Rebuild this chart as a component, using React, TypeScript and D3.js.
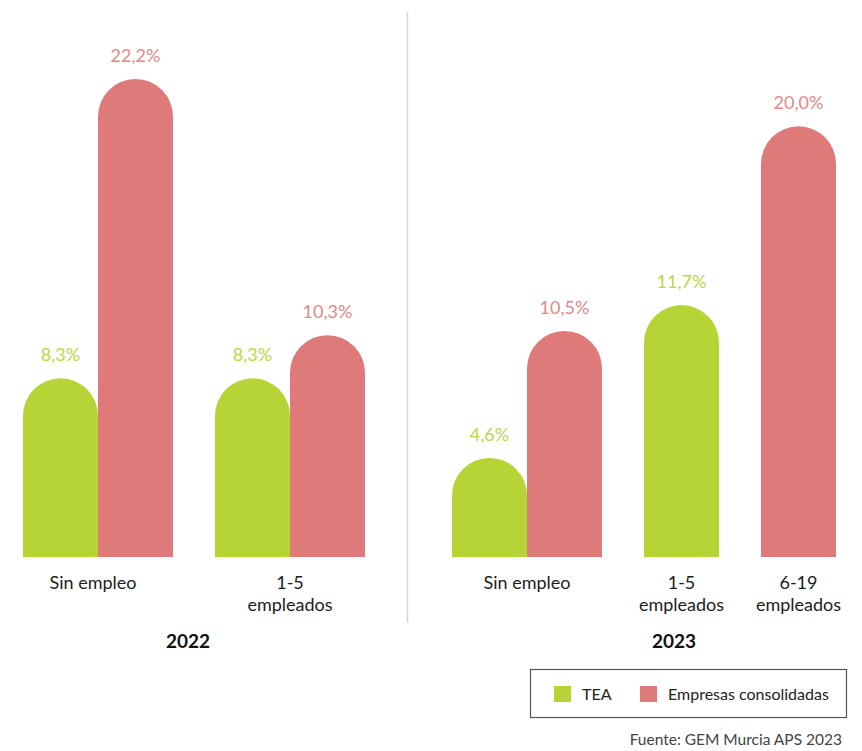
import React, { useRef, useEffect } from 'react';
import * as d3 from 'd3';

// categories per panel
const years = ['2022', '2023'];
const categories2022 = ['Sin empleo', '1-5 empleados'];
const categories2023 = ['Sin empleo', '1-5 empleados', '6-19 empleados'];

// series values (null = no bar)
const tea2022 = [8.3, 8.3];
const empresas2022 = [22.2, 10.3];
const tea2023 = [4.6, 11.7, null];
const empresas2023 = [10.5, null, 20.0];

const seriesNames = ['TEA', 'Empresas consolidadas'];
const seriesColors = ['#b6d436', '#de7a79'];
const labelColors = ['#bad745', '#e48886'];

const W = 862;
const H = 751;

const fmt = (v: number) => d3.format('.1f')(v).replace('.', ',') + '%';

export default function App() {
  const ref = useRef<SVGSVGElement>(null);

  useEffect(() => {
    if (!ref.current) return;
    const svg = d3.select(ref.current);
    svg.selectAll('*').remove();

    const font = 'Lato, "Open Sans", sans-serif';
    const baseline = 557;
    const barW = 75;
    const gap = 42;

    const y = d3.scaleLinear().domain([0, 22.2]).range([baseline, 79]);

    // bar with a semicircular top
    const roundTop = (x0: number, top: number, w: number) => {
      const r = w / 2;
      const p = d3.path();
      p.moveTo(x0, baseline);
      p.lineTo(x0, top + r);
      p.arc(x0 + r, top + r, r, Math.PI, 0);
      p.lineTo(x0 + w, baseline);
      p.closePath();
      return p.toString();
    };

    const panels = [
      { year: years[0], cats: categories2022, series: [tea2022, empresas2022], x0: 23, yearX: 188 },
      { year: years[1], cats: categories2023, series: [tea2023, empresas2023], x0: 452, yearX: 674 },
    ];

    panels.forEach((panel) => {
      const g = svg.append('g');
      let cursor = panel.x0;
      panel.cats.forEach((cat, ci) => {
        const present = panel.series
          .map((s, si) => ({ v: s[ci], si }))
          .filter((d) => d.v !== null && d.v !== undefined) as { v: number; si: number }[];
        const groupW = present.length * barW;
        present.forEach((d, k) => {
          const bx = cursor + k * barW;
          g.append('path')
            .attr('d', roundTop(bx, y(d.v), barW))
            .attr('fill', seriesColors[d.si]);
          g.append('text')
            .attr('x', bx + barW / 2)
            .attr('y', y(d.v) - 17)
            .attr('text-anchor', 'middle')
            .attr('font-family', font)
            .attr('font-size', 18)
            .attr('fill', labelColors[d.si])
            .text(fmt(d.v));
        });
        const cx = cursor + groupW / 2 - (present.length === 2 && panel.x0 < 100 && ci === 0 ? 5 : 0);
        const lines = cat === 'Sin empleo' ? [cat] : cat.split(' ');
        lines.forEach((ln, li) => {
          g.append('text')
            .attr('x', cx)
            .attr('y', 589 + li * 22)
            .attr('text-anchor', 'middle')
            .attr('font-family', font)
            .attr('font-size', 18)
            .attr('fill', '#1c1c1c')
            .text(ln);
        });
        cursor += groupW + gap;
      });
      g.append('text')
        .attr('x', panel.yearX)
        .attr('y', 648)
        .attr('text-anchor', 'middle')
        .attr('font-family', font)
        .attr('font-weight', 'bold')
        .attr('font-size', 19)
        .attr('fill', '#111')
        .text(panel.year);
    });

    // divider
    svg.append('line')
      .attr('x1', 407.5).attr('x2', 407.5)
      .attr('y1', 12).attr('y2', 623)
      .attr('stroke', '#d6d6d6')
      .attr('stroke-width', 1.5);

    // legend
    const lg = svg.append('g');
    lg.append('rect')
      .attr('x', 530.5).attr('y', 669.5)
      .attr('width', 316).attr('height', 48)
      .attr('fill', 'none')
      .attr('stroke', '#555')
      .attr('stroke-width', 1.2);
    const legendX = [554, 640];
    seriesNames.forEach((name, i) => {
      lg.append('rect')
        .attr('x', legendX[i]).attr('y', 686)
        .attr('width', 17).attr('height', 16)
        .attr('fill', seriesColors[i]);
      lg.append('text')
        .attr('x', legendX[i] + 28)
        .attr('y', 700)
        .attr('font-family', font)
        .attr('font-size', 16)
        .attr('fill', '#222')
        .text(name);
    });

    // source
    svg.append('text')
      .attr('x', 842)
      .attr('y', 745)
      .attr('text-anchor', 'end')
      .attr('font-family', font)
      .attr('font-size', 15.5)
      .attr('fill', '#444')
      .text('Fuente: GEM Murcia APS 2023');
  }, []);

  return (
    <svg
      ref={ref}
      width={W}
      height={H}
      style={{ position: 'absolute', left: 0, top: 0, background: '#fff' }}
    />
  );
}
